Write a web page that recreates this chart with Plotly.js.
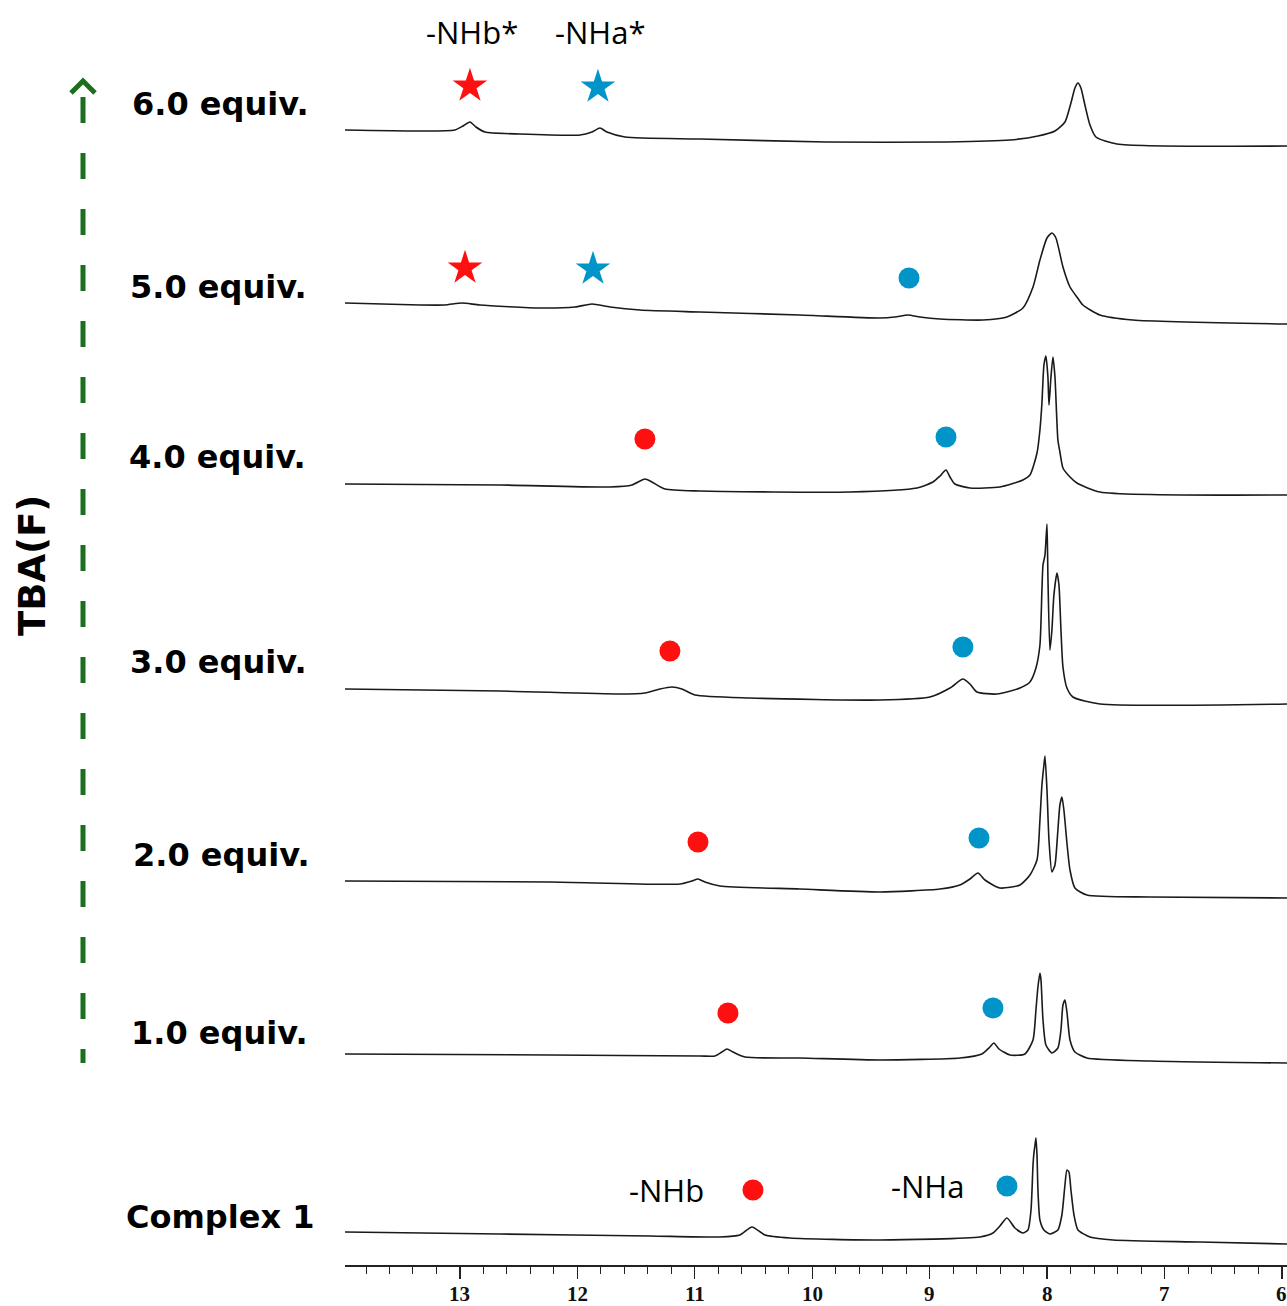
<!DOCTYPE html>
<html>
<head>
<meta charset="utf-8">
<script src="https://cdn.plot.ly/plotly-3.0.1.min.js"></script>
<style>html,body{margin:0;padding:0;background:#fff;}#chart{width:1287px;height:1306px;}</style>
</head>
<body>
<div id="chart"></div>
<script>
// ---------- DATA ----------
// chemical shift (ppm) and intensity (relative, arbitrary units) for each trace
const ppm_complex1 = [13.979,12.659,11.382,10.786,10.616,10.513,10.403,10.190,9.423,8.572,8.461,8.402,8.342,8.274,8.206,8.163,8.137,8.120,8.112,8.103,8.095,8.086,8.078,8.061,8.027,7.976,7.908,7.874,7.848,7.831,7.814,7.797,7.771,7.737,7.635,7.439,6.698,5.957];
const int_complex1 = [0,-2,-4,-5,-3,5,-3,-6,-8,-5,-1,6,14,4,-1,2,22,67,79,87,94,77,42,12,2,-2,2,17,47,62,60,42,17,2,-5,-8,-10,-12];

const ppm_eq1 = [13.979,12.234,10.956,10.828,10.769,10.726,10.675,10.573,10.105,9.423,8.742,8.555,8.487,8.453,8.410,8.316,8.189,8.120,8.095,8.078,8.061,8.052,8.035,8.010,7.959,7.908,7.882,7.865,7.848,7.831,7.805,7.763,7.661,7.124,5.957];
const int_eq1 = [0,-1,-2,-2,2,5,2,-3,-4,-6,-4,0,7,11,5,-1,0,14,44,67,81,74,34,9,1,6,24,49,54,42,14,2,-4,-7,-9];

const ppm_eq2 = [13.979,12.234,11.127,11.024,10.973,10.914,10.786,10.105,9.423,8.912,8.742,8.657,8.589,8.529,8.402,8.231,8.146,8.086,8.061,8.044,8.027,8.018,8.001,7.984,7.959,7.933,7.908,7.891,7.874,7.857,7.831,7.805,7.763,7.661,7.124,5.957];
const int_eq2 = [0,-1,-3,0,2,-1,-5,-8,-11,-8,-4,2,8,1,-7,-4,6,21,61,96,116,125,91,41,9,16,51,76,84,71,38,11,-7,-14,-16,-17];

const ppm_eq3 = [13.979,12.659,11.637,11.425,11.297,11.195,11.110,10.999,10.530,9.423,8.998,8.827,8.717,8.657,8.597,8.427,8.231,8.146,8.095,8.061,8.044,8.035,8.018,8.001,7.993,7.976,7.959,7.942,7.916,7.899,7.882,7.865,7.831,7.780,7.550,5.957];
const int_eq3 = [0,-2,-5,-4,0,2,0,-6,-9,-11,-8,1,10,5,-3,-5,1,7,21,44,99,124,134,165,112,39,59,94,116,104,59,22,1,-8,-15,-15];

const ppm_eq4 = [13.979,12.659,11.722,11.535,11.425,11.365,11.254,10.956,9.679,9.108,8.972,8.912,8.861,8.827,8.785,8.657,8.402,8.206,8.146,8.086,8.061,8.044,8.027,8.010,7.993,7.984,7.967,7.950,7.933,7.908,7.891,7.865,7.805,7.746,7.550,5.957];
const int_eq4 = [0,-1,-3,-1,5,2,-5,-7,-8,-4,2,8,14,7,0,-4,-3,4,9,31,54,81,119,128,107,79,107,127,107,44,32,16,7,1,-8,-11];

const ppm_eq5 = [13.979,13.341,13.128,12.983,12.830,12.319,12.021,11.876,11.722,11.467,10.956,10.105,9.423,9.296,9.185,9.083,8.912,8.546,8.342,8.206,8.120,8.061,8.001,7.959,7.925,7.865,7.805,7.740,7.695,7.550,7.269,5.957];
const int_eq5 = [0,-2,-2,0,-2,-5,-4,-1,-4,-7,-9,-12,-15,-14,-12,-14,-16,-17,-14,-5,16,43,65,70,65,36,16,5,-2,-12,-17,-21];

const ppm_eq6 = [13.979,13.341,13.043,12.974,12.915,12.864,12.787,12.489,11.978,11.876,11.808,11.748,11.595,10.956,9.883,8.853,8.316,8.078,7.933,7.848,7.797,7.763,7.737,7.712,7.678,7.635,7.584,7.405,5.957];
const int_eq6 = [0,-1,0,4,8,3,-2,-4,-5,-2,2,-2,-7,-9,-12,-12,-10,-6,-1,8,27,42,47,42,25,5,-7,-14,-16];

const traceLabels = ["Complex 1","1.0 equiv.","2.0 equiv.","3.0 equiv.","4.0 equiv.","5.0 equiv.","6.0 equiv."];
const tickValues = [13,12,11,10,9,8,7,6];
const tickLabels = ["13","12","11","10","9","8","7","6"];

// peak-assignment markers (ppm) for each trace
const nhbDotPpm = [10.505,10.718,10.973,11.212,11.425];      // red dots: Complex 1 .. 4.0 equiv
const nhaDotPpm = [8.342,8.461,8.580,8.717,8.861,9.176];     // blue dots: Complex 1 .. 5.0 equiv
const nhbStarPpm = [12.957,12.915];                          // red stars: 5.0, 6.0 equiv
const nhaStarPpm = [11.867,11.825];                          // blue stars: 5.0, 6.0 equiv

// ---------- LAYOUT HELPERS ----------
const W = 1287, H = 1306, PLOT_BOTTOM = 1265;
const px = x => x / W;
const py = y => (PLOT_BOTTOM - y) / PLOT_BOTTOM;
const lvl = y => PLOT_BOTTOM - y;  // pixel row -> y-axis value

const ppmSets = [ppm_complex1, ppm_eq1, ppm_eq2, ppm_eq3, ppm_eq4, ppm_eq5, ppm_eq6];
const intSets = [int_complex1, int_eq1, int_eq2, int_eq3, int_eq4, int_eq5, int_eq6];
const baseRows = [1232, 1054, 881, 689, 484, 303, 130];

const traces = ppmSets.map((xs, k) => ({
  type: 'scatter', mode: 'lines', x: xs,
  y: intSets[k].map(v => v + lvl(baseRows[k])),
  line: {color: '#1a1a1a', width: 1.6, shape: 'spline', smoothing: 0.6},
  hoverinfo: 'skip', name: traceLabels[k]
}));

const RED = '#ff1010', BLUE = '#0094c8';
const dotRowsB = [1190, 1013, 842, 651, 439];
const dotRowsA = [1186, 1008, 838, 647, 437, 278];
traces.push({type:'scatter', mode:'markers', x: nhbDotPpm, y: dotRowsB.map(lvl),
  marker:{color:RED, size:21, line:{width:0}}, hoverinfo:'skip'});
traces.push({type:'scatter', mode:'markers', x: nhaDotPpm, y: dotRowsA.map(lvl),
  marker:{color:BLUE, size:21, line:{width:0}}, hoverinfo:'skip'});
traces.push({type:'scatter', mode:'markers', x: nhbStarPpm, y: [268, 86].map(lvl),
  marker:{color:RED, size:26, symbol:'star', line:{width:0}}, hoverinfo:'skip'});
traces.push({type:'scatter', mode:'markers', x: nhaStarPpm, y: [269, 87].map(lvl),
  marker:{color:BLUE, size:26, symbol:'star', line:{width:0}}, hoverinfo:'skip'});

const labelPos = [[220,1217],[219,1033],[221,855],[218,662],[217,457],[218,287],[220,104]];
const annotations = traceLabels.map((t, k) => ({
  xref:'paper', yref:'paper', x: px(labelPos[k][0]), y: py(labelPos[k][1]),
  xanchor:'center', yanchor:'middle', showarrow:false,
  text: '<b>' + t + '</b>', font:{family:'DejaVu Sans', size:32, color:'#000'}
}));
const regText = [["-NHb",667,1190],["-NHa",927,1186],["-NHb*",472,32],["-NHa*",600,32]];
regText.forEach(r => annotations.push({
  xref:'paper', yref:'paper', x: px(r[1]), y: py(r[2]), xanchor:'center', yanchor:'middle',
  showarrow:false, text:r[0], font:{family:'Open Sans', size:31, color:'#000'}
}));
annotations.push({xref:'paper', yref:'paper', x: px(32), y: py(566), xanchor:'center', yanchor:'middle',
  showarrow:false, textangle:-90, text:'<b>TBA(F)</b>', font:{family:'DejaVu Sans', size:37, color:'#000'}});

// x tick labels drawn as annotations at the tick values (so the edge label "6" is kept)
tickValues.forEach((v, i) => annotations.push({
  xref:'x', yref:'paper', x: v, y: py(1294), xanchor:'center', yanchor:'middle',
  showarrow:false, text:'<b>' + tickLabels[i] + '</b>',
  font:{family:'Liberation Sans Narrow', size:21, color:'#111'}
}));

const GREEN = '#1b6f1f';
const shapes = [
  {type:'line', xref:'paper', yref:'paper', x0:px(83), x1:px(83), y0:py(97), y1:py(1063),
   line:{color:GREEN, width:5, dash:'26px,30px'}},
  {type:'path', xref:'paper', yref:'paper',
   path:`M ${px(71)} ${py(93)} L ${px(83)} ${py(81)} L ${px(95)} ${py(93)}`,
   line:{color:GREEN, width:5}}
];

const layout = {
  width: W, height: H,
  margin: {l:0, r:0, t:0, b:H-PLOT_BOTTOM, pad:0},
  paper_bgcolor:'#fff', plot_bgcolor:'#fff', showlegend:false,
  xaxis: {
    domain:[px(345), 1], range:[13.979, 5.957], showgrid:false, zeroline:false,
    showline:true, linecolor:'#222', linewidth:1.5,
    ticks:'outside', ticklen:12, tickwidth:1.3, tickcolor:'#222',
    tickmode:'array', tickvals: tickValues, showticklabels:false,
    minor:{dtick:0.2, tick0:0, ticks:'outside', ticklen:7, tickwidth:1, tickcolor:'#222', showgrid:false}
  },
  yaxis: {range:[0, PLOT_BOTTOM], visible:false, showgrid:false, zeroline:false},
  annotations, shapes
};

Plotly.newPlot('chart', traces, layout, {displayModeBar:false, staticPlot:true});
</script>
</body>
</html>
